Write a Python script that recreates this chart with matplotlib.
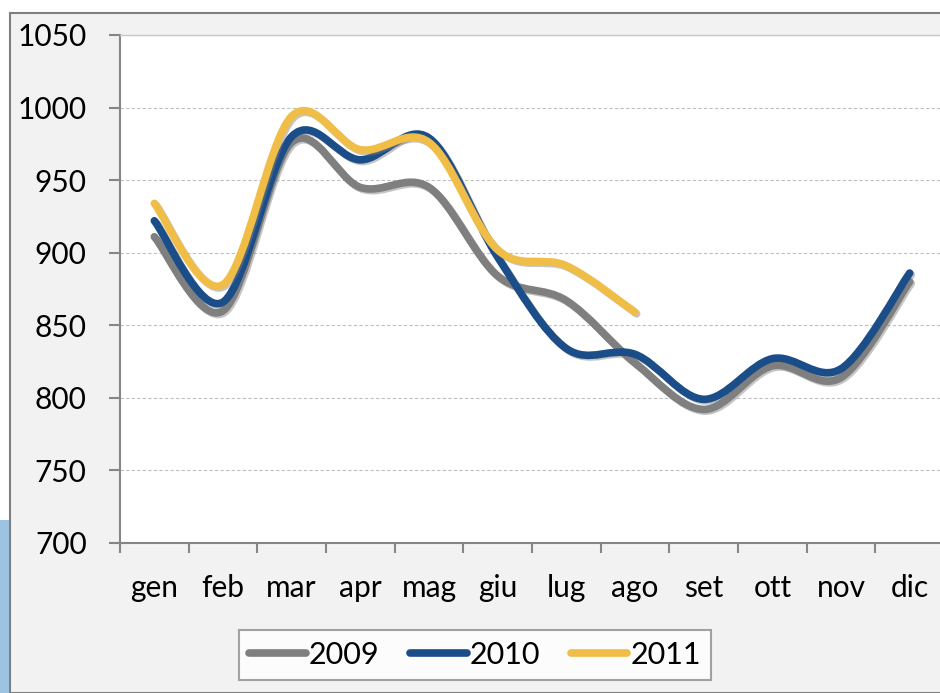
import numpy as np
import matplotlib
matplotlib.use('Agg')
import matplotlib.pyplot as plt
from matplotlib.path import Path
from matplotlib.patches import PathPatch, Rectangle
from matplotlib.lines import Line2D
import matplotlib.patheffects as pe

# dati
mesi = ["gen", "feb", "mar", "apr", "mag", "giu", "lug", "ago", "set", "ott", "nov", "dic"]
v2009 = [911, 860, 976, 945, 945, 884, 867, 824, 792, 822, 814, 880]
v2010 = [922, 866, 980, 964, 979, 897, 834, 830, 799, 827, 820, 886]
v2011 = [934, 878, 994, 971, 976, 902, 891, 859]
anni = ["2009", "2010", "2011"]
colori = ["#7F7F7F", "#1B4D89", "#F0BD47"]

plt.rcParams['font.family'] = ['Lato', 'DejaVu Sans']

fig = plt.figure(figsize=(9.4, 6.93), dpi=100)
W, H = 940, 693

# sfondo grigio con cornice
fig.patches.append(Rectangle((10 / W, 0), 1.0, 1 - 13 / H, transform=fig.transFigure,
                             facecolor="#F2F2F2", edgecolor="#7F7F7F", linewidth=1.5, zorder=-2))
fig.patches.append(Rectangle((0, 0), 9 / W, 1 - 520 / H, transform=fig.transFigure,
                             facecolor="#9CC3E2", edgecolor="none", zorder=-1))

ax = fig.add_axes([120 / W, 1 - 543 / H, 824 / W, 508 / H])
ax.set_facecolor("white")


def curva_smooth(y):
    # spline tipo Excel (Catmull-Rom -> Bezier)
    pts = np.column_stack([np.arange(len(y)), np.array(y, dtype=float)])
    n = len(pts)
    verts = [pts[0]]
    codes = [Path.MOVETO]
    for i in range(n - 1):
        p0 = pts[i - 1] if i > 0 else pts[i]
        p3 = pts[i + 2] if i + 2 < n else pts[i + 1]
        c1 = pts[i] + (pts[i + 1] - p0) / 6
        c2 = pts[i + 1] - (p3 - pts[i]) / 6
        verts += [c1, c2, pts[i + 1]]
        codes += [Path.CURVE4] * 3
    return Path(verts, codes)


handles = []
for serie, col, lab in zip([v2009, v2010, v2011], colori, anni):
    patch = PathPatch(curva_smooth(serie), facecolor="none", edgecolor=col, linewidth=5.5,
                      capstyle="round", joinstyle="round", zorder=3)
    patch.set_path_effects([pe.SimpleLineShadow(offset=(1.2, -1.2), shadow_color="#808080", alpha=0.45),
                            pe.Normal()])
    ax.add_patch(patch)
    handles.append(Line2D([], [], color=col, linewidth=5.5, solid_capstyle="round", label=lab))

ax.set_xlim(-0.5, 11.5)
ax.set_ylim(700, 1050)
ax.set_yticks(np.arange(700, 1051, 50))
ax.set_xticks(np.arange(12))
ax.set_xticklabels(mesi)
ax.set_xticks(np.arange(-0.5, 12, 1), minor=True)

ax.grid(axis="y", color="#BFBFBF", linestyle=(0, (3, 2)), linewidth=0.8)
ax.set_axisbelow(True)

ax.spines["right"].set_visible(False)
ax.spines["top"].set_color("#C8C8C8")
ax.spines["top"].set_linewidth(1.0)
for s in ["left", "bottom"]:
    ax.spines[s].set_color("#868686")
    ax.spines[s].set_linewidth(1.5)

ax.tick_params(axis="y", direction="out", length=8, width=1.5, color="#868686",
               labelsize=21.5, pad=16)
ax.tick_params(axis="x", which="major", length=0, labelsize=21.5, pad=22)
ax.tick_params(axis="x", which="minor", direction="out", length=7.5, width=1.5, color="#868686")

leg = fig.legend(handles=handles, loc="center", bbox_to_anchor=(475 / W, 1 - 655 / H), ncol=3,
                 fontsize=22, frameon=True, fancybox=False, edgecolor="#8C8C8C",
                 handlelength=1.85, handletextpad=0.1, columnspacing=1.0, borderpad=0.35)
leg.get_frame().set_linewidth(1.5)
leg.get_frame().set_facecolor("white")

fig.savefig("out.png", dpi=100)
